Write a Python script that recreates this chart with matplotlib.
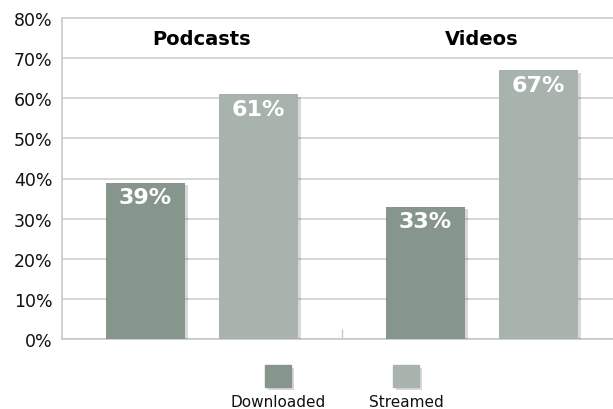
import matplotlib.pyplot as plt
import matplotlib.patheffects as pe
from matplotlib.patches import Rectangle

# media type groups and share of each delivery method (%)
groups = ["Podcasts", "Videos"]
series = ["Downloaded", "Streamed"]
downloaded = [39, 33]
streamed = [61, 67]
y_ticks = [0, 10, 20, 30, 40, 50, 60, 70, 80]

colors = {"Downloaded": "#87968d", "Streamed": "#a7b3ac"}
shadow = [pe.SimplePatchShadow(offset=(2, -2), shadow_rgbFace="#000000", alpha=0.15), pe.Normal()]

fig = plt.figure(figsize=(6.13, 4.10), dpi=100)
ax = fig.add_axes([62 / 613, 1 - 340 / 410, 551 / 613, 321 / 410])

width = 0.282
offset = 0.202
for gi, name in enumerate(groups):
    center = gi + 0.5
    for si, vals in enumerate([downloaded, streamed]):
        x = center + (offset if si else -offset)
        v = vals[gi]
        ax.bar(x, v, width, color=colors[series[si]], zorder=3, path_effects=shadow)
        ax.text(x, v - 1.2, f"{v}%", ha="center", va="top", color="white",
                fontsize=16, fontweight="bold", zorder=4)
    ax.text(center, 74.8, name, ha="center", va="center", fontsize=14,
            fontweight="bold", color="black")

ax.set_xlim(0, 551 / 280)
ax.set_ylim(0, 80)
ax.set_yticks(y_ticks)
ax.set_yticklabels([f"{t}%" for t in y_ticks], fontsize=12.5, color="#111111")
ax.tick_params(axis="y", length=0, pad=7)
ax.set_xticks([1])
ax.set_xticklabels([])
ax.tick_params(axis="x", direction="in", length=7, color="#c8c8c8", width=1)
ax.grid(axis="y", color="#d0d0d0", linewidth=1.2, zorder=0)
ax.spines["right"].set_visible(False)
ax.spines["top"].set_color("#d0d0d0")
ax.spines["top"].set_linewidth(1.2)
for side in ["left", "bottom"]:
    ax.spines[side].set_color("#c8c8c8")
    ax.spines[side].set_linewidth(1.2)

# legend: swatch above its label
legend_pos = {"Downloaded": 278, "Streamed": 406}
for name in series:
    cx = legend_pos[name]
    sq = Rectangle(((cx - 13) / 613, 1 - 388 / 410), 26 / 613, 22 / 410,
                   transform=fig.transFigure, color=colors[name], path_effects=shadow)
    fig.add_artist(sq)
    fig.text(cx / 613, 1 - 403 / 410, name, ha="center", va="center", fontsize=11, color="#111111")

fig.savefig("out.png", dpi=100)
